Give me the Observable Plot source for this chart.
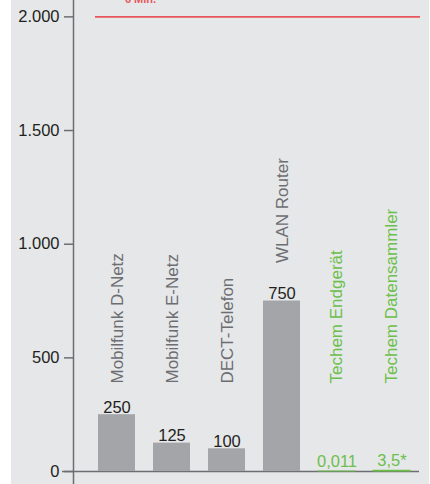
<!DOCTYPE html>
<html>
<head>
<meta charset="utf-8">
<script src="https://cdn.jsdelivr.net/npm/d3@7"></script>
<script src="https://cdn.jsdelivr.net/npm/@observablehq/plot@0.6"></script>
<style>
  html, body { margin: 0; padding: 0; background: #ffffff; }
  #chart { margin-left: 11px; width: 418px; }
  #chart svg { display: block; background: #e6e7e9; }
</style>
</head>
<body>
<div id="chart"></div>
<script>
const categories = ["Mobilfunk D-Netz", "Mobilfunk E-Netz", "DECT-Telefon", "WLAN Router", "Techem Endgerät", "Techem Datensammler"];
const values = [250, 125, 100, 750, 0.011, 3.5];
const valueLabels = ["250", "125", "100", "750", "0,011", "3,5*"];
const groups = ["andere", "andere", "andere", "andere", "techem", "techem"];
const yTicks = [0, 500, 1000, 1500, 2000];
const limitValue = [2000];
const limitLabel = ["6 Min."];

const data = categories.map((c, i) => ({category: c, value: values[i], label: valueLabels[i], group: groups[i]}));
const others = data.filter(d => d.group === "andere");
const techem = data.filter(d => d.group === "techem");

const de = d3.formatLocale({decimal: ",", thousands: ".", grouping: [3], currency: ["", "€"]});
const fmt = de.format(",");

const axisGray = "#6d6e71";
const barGray = "#a4a5a8";
const green = "#6cbf4b";
const dark = "#231f20";
const red = "#e8555b";
const font = "'Liberation Sans', Arial, Helvetica, sans-serif";

// category labels sit on a common level unless the bar reaches above it
const labelLevel = d => (d.value > 500 ? d.value : 220);

const chart = Plot.plot({
  width: 418,
  height: 484,
  marginLeft: 62,
  marginRight: 2,
  marginTop: 0,
  marginBottom: 0,
  style: {fontFamily: font, fontSize: "16.5px", background: "#e6e7e9", overflow: "hidden"},
  x: {domain: categories, range: [87, 399], paddingInner: 0.3273, paddingOuter: 0, axis: null},
  y: {domain: [-57, 2072], axis: null},
  marks: [
    Plot.ruleY([0], {stroke: axisGray, strokeWidth: 1.5, insetLeft: -11, insetRight: 8}),
    Plot.barY(others, {x: "category", y: "value", fill: barGray}),
    Plot.barY(techem, {x: "category", y: "value", fill: green, stroke: green, strokeWidth: 1}),
    Plot.text(others, {x: "category", y: "value", text: "label", lineAnchor: "bottom", dy: -2, fill: dark, fontSize: 16.5}),
    Plot.text(techem, {x: "category", y: "value", text: "label", lineAnchor: "bottom", dy: -5, fill: green, fontSize: 16.5}),
    Plot.text(others, {x: "category", y: labelLevel, text: "category", rotate: -90, textAnchor: "start", dy: -38, dx: 1, fill: axisGray, fontSize: 17}),
    Plot.text(techem, {x: "category", y: labelLevel, text: "category", rotate: -90, textAnchor: "start", dy: -38, dx: 0, fill: green, fontSize: 17}),
    Plot.ruleY(limitValue, {stroke: red, strokeWidth: 1.6, insetLeft: 22, insetRight: 7}),
    Plot.text(limitLabel, {frameAnchor: "left", y: () => limitValue[0], text: d => d, textAnchor: "middle", lineAnchor: "bottom", dx: 67, dy: -14, fill: red, fontWeight: "bold", fontSize: 11}),
    Plot.axisY({ticks: yTicks, tickFormat: fmt, tickSize: 9, tickPadding: 5, stroke: axisGray, strokeWidth: 1.5, fill: dark, fontSize: 16.5, label: null}),
    Plot.frame({anchor: "left", stroke: axisGray, strokeWidth: 1.5})
  ]
});
document.getElementById("chart").appendChild(chart);
</script>
</body>
</html>
